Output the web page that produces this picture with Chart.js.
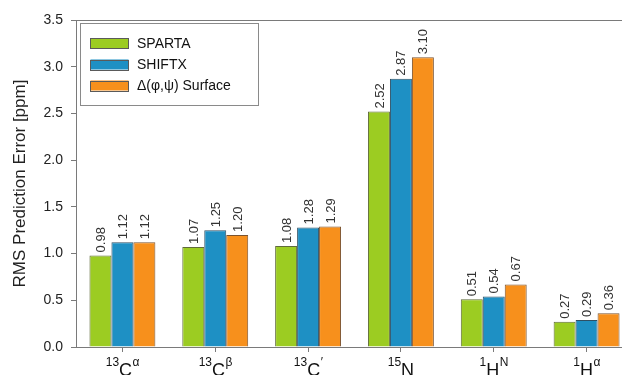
<!DOCTYPE html>
<html>
<head>
<meta charset="utf-8">
<script src="https://cdn.jsdelivr.net/npm/chart.js@4/dist/chart.umd.min.js"></script>
<style>
  html, body { margin: 0; padding: 0; background: #fff; overflow: hidden; width: 622px; height: 375px; }
  #wrap { width: 640px; height: 375px; }
</style>
</head>
<body>
<div id="wrap"><canvas id="c" width="640" height="375"></canvas></div>
<script>
// ---- data ----
const categoryMass   = ['13', '13', '13', '15', '1', '1'];
const categoryAtom   = ['C', 'C', 'C', 'N', 'H', 'H'];
const categorySuffix = ['α', 'β', '′', '', 'N', 'α'];
const categories = categoryMass.map((m, i) => m + categoryAtom[i] + categorySuffix[i]);

const spartaValues  = [0.98, 1.07, 1.08, 2.52, 0.51, 0.27];
const shiftxValues  = [1.12, 1.25, 1.28, 2.87, 0.54, 0.29];
const surfaceValues = [1.12, 1.20, 1.29, 3.10, 0.67, 0.36];

const seriesNames = ['SPARTA', 'SHIFTX', 'Δ(φ,ψ) Surface'];
const yTicks = [0.0, 0.5, 1.0, 1.5, 2.0, 2.5, 3.0, 3.5];
const yTitle = 'RMS Prediction Error [ppm]';

const FONT = '"Liberation Sans", Arial, sans-serif';
const AXIS_COLOR = '#7a7a7a';

// ---- plugins ----
const decorations = {
  id: 'decorations',
  afterDatasetsDraw(chart) {
    const ctx = chart.ctx;
    const area = chart.chartArea;
    // top border line
    ctx.save();
    ctx.strokeStyle = AXIS_COLOR;
    ctx.lineWidth = 1;
    ctx.beginPath();
    ctx.moveTo(area.left, Math.round(area.top) + 0.5);
    ctx.lineTo(chart.width, Math.round(area.top) + 0.5);
    ctx.stroke();

    // value labels (rotated)
    ctx.fillStyle = '#333';
    ctx.font = '13px ' + FONT;
    ctx.textAlign = 'left';
    ctx.textBaseline = 'middle';
    chart.data.datasets.forEach((ds, di) => {
      const meta = chart.getDatasetMeta(di);
      meta.data.forEach((bar, i) => {
        ctx.save();
        ctx.translate(bar.x, bar.y - 3);
        ctx.rotate(-Math.PI / 2);
        ctx.fillText(ds.data[i].toFixed(2), 0, 1);
        ctx.restore();
      });
    });

    // x category labels with superscripts
    const xs = chart.scales.x;
    categories.forEach((c, i) => {
      const x = xs.getPixelForValue(i);
      const supFont = '12px ' + FONT;
      const mainFont = '18px ' + FONT;
      ctx.font = supFont;
      const wPre = ctx.measureText(categoryMass[i]).width;
      const wPost = ctx.measureText(categorySuffix[i]).width;
      ctx.font = mainFont;
      const wMain = ctx.measureText(categoryAtom[i]).width;
      const total = wPre + wMain + wPost;
      let cx = x - total / 2;
      ctx.fillStyle = '#111';
      ctx.textAlign = 'left';
      ctx.textBaseline = 'alphabetic';
      ctx.font = supFont;
      ctx.fillText(categoryMass[i], cx, 366);
      cx += wPre;
      ctx.font = mainFont;
      ctx.fillText(categoryAtom[i], cx, 376);
      cx += wMain;
      ctx.font = supFont;
      ctx.fillText(categorySuffix[i], cx + 0.5, 366);
    });

    // legend box
    const lx = 80.5, ly = 23.5, lw = 178, lh = 82;
    ctx.fillStyle = '#fff';
    ctx.fillRect(lx, ly, lw, lh);
    ctx.strokeStyle = '#8a8a8a';
    ctx.lineWidth = 1;
    ctx.strokeRect(lx, ly, lw, lh);
    const rows = [43, 64.5, 85.5];
    chart.data.datasets.forEach((ds, di) => {
      const cy = rows[di];
      ctx.fillStyle = ds.backgroundColor;
      ctx.fillRect(90.5, cy - 5, 38, 10);
      ctx.strokeStyle = '#5a5a5a';
      ctx.strokeRect(90.5, Math.round(cy - 5) + 0.5, 38, 10);
      ctx.fillStyle = '#111';
      ctx.font = '14px ' + FONT;
      ctx.textAlign = 'left';
      ctx.textBaseline = 'middle';
      ctx.fillText(ds.label, 137, cy + 1);
    });
    ctx.restore();
  }
};

new Chart(document.getElementById('c'), {
  type: 'bar',
  data: {
    labels: categories,
    datasets: [
      { label: seriesNames[0], data: spartaValues,  backgroundColor: '#9ccc22', borderColor: '#5f6b3a', borderWidth: 1 },
      { label: seriesNames[1], data: shiftxValues,  backgroundColor: '#1e90c4', borderColor: '#2f4f63', borderWidth: 1 },
      { label: seriesNames[2], data: surfaceValues, backgroundColor: '#f7901c', borderColor: '#7a5330', borderWidth: 1 }
    ]
  },
  options: {
    responsive: false,
    animation: false,
    devicePixelRatio: 1,
    layout: { padding: { top: 20, right: 7, left: 10, bottom: 0 } },
    datasets: { bar: { categoryPercentage: 0.71, barPercentage: 1.0 } },
    plugins: {
      legend: { display: false },
      tooltip: { enabled: false }
    },
    scales: {
      x: {
        offset: true,
        grid: { display: true, drawOnChartArea: false, offset: false, tickLength: 5, color: AXIS_COLOR },
        border: { display: true, color: AXIS_COLOR },
        ticks: { display: false },
        afterFit(scale) { scale.height = 28; }
      },
      y: {
        min: 0, max: 3.5,
        afterBuildTicks(scale) { scale.ticks = yTicks.map(v => ({ value: v })); },
        grid: { display: true, drawOnChartArea: false, tickLength: 5, color: AXIS_COLOR },
        border: { display: true, color: AXIS_COLOR },
        ticks: {
          color: '#222',
          padding: 8,
          font: { family: FONT, size: 14 },
          callback: v => Number(v).toFixed(1)
        },
        title: {
          display: true,
          text: yTitle,
          color: '#222',
          font: { family: FONT, size: 17 },
          padding: { top: 0, bottom: 0 }
        },
        afterFit(scale) { scale.width = 66; }
      }
    }
  },
  plugins: [decorations]
});
</script>
</body>
</html>
